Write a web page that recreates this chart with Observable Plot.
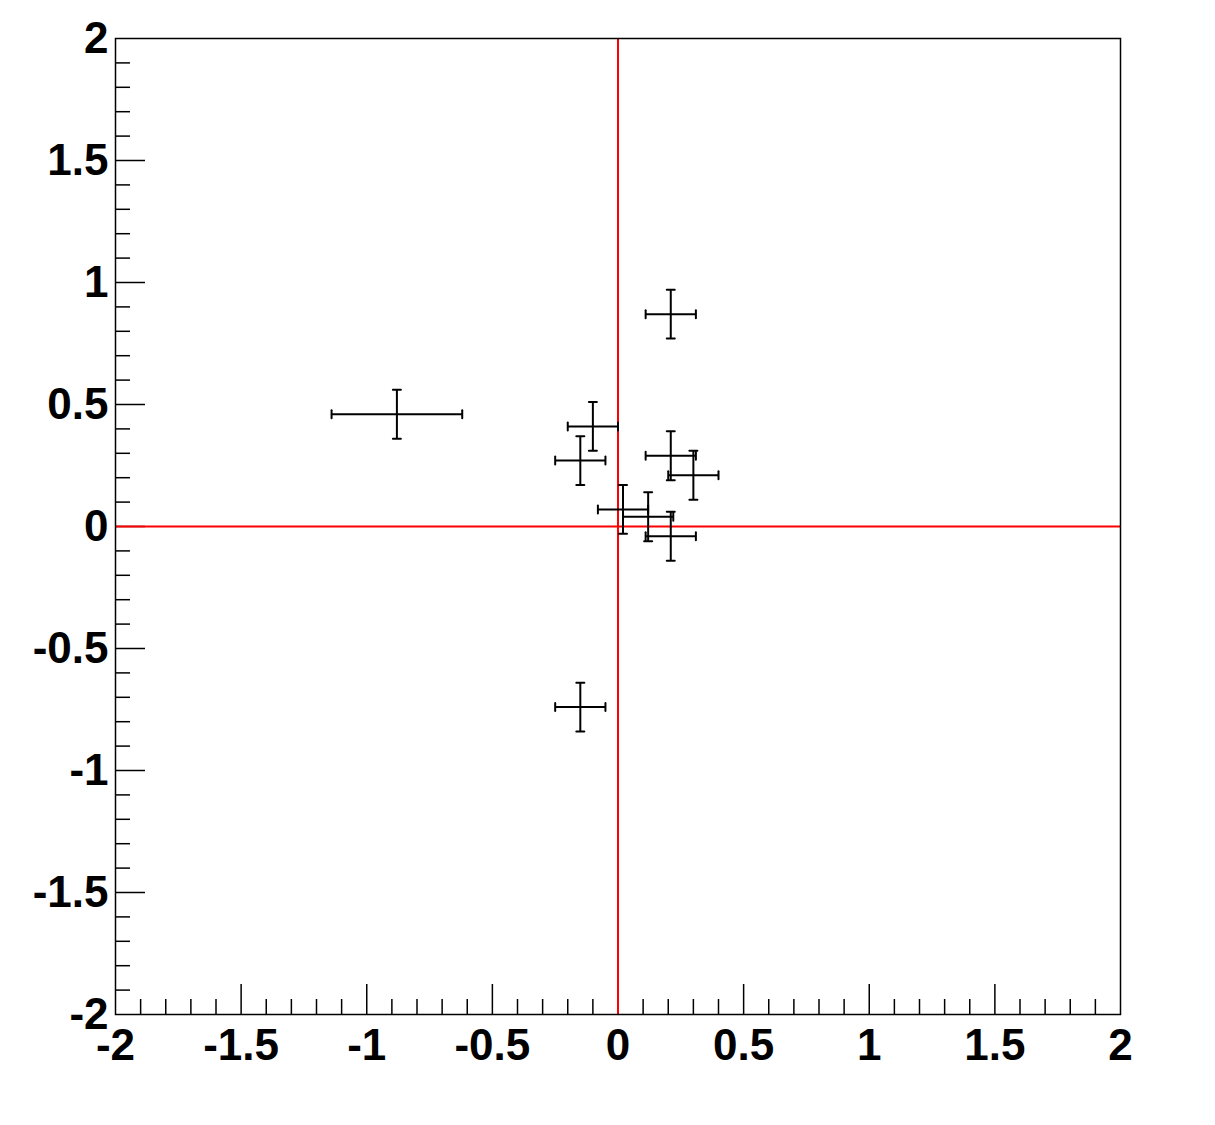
<!DOCTYPE html>
<html>
<head>
<meta charset="utf-8">
<script src="https://cdn.jsdelivr.net/npm/d3@7"></script>
<script src="https://cdn.jsdelivr.net/npm/@observablehq/plot@0.6"></script>
<style>
  html, body { margin: 0; padding: 0; background: #fff; }
  #chart svg { display: block; }
</style>
</head>
<body>
<div id="chart"></div>
<script>
// Data
const xs  = [0.21, -0.10, -0.15, 0.21, 0.30, 0.02, 0.12, 0.21, -0.88, -0.15];
const ys  = [0.87,  0.41,  0.27, 0.29, 0.21, 0.07, 0.04, -0.04, 0.46, -0.74];
const exs = [0.10,  0.10,  0.10, 0.10, 0.10, 0.10, 0.10, 0.10, 0.26, 0.10];
const eys = [0.10,  0.10,  0.10, 0.10, 0.10, 0.10, 0.10, 0.10, 0.10, 0.10];
const majorTicks = [-2, -1.5, -1, -0.5, 0, 0.5, 1, 1.5, 2];
const minorTicks = [-1.9,-1.8,-1.7,-1.6,-1.4,-1.3,-1.2,-1.1,-0.9,-0.8,-0.7,-0.6,-0.4,-0.3,-0.2,-0.1,
                    0.1,0.2,0.3,0.4,0.6,0.7,0.8,0.9,1.1,1.2,1.3,1.4,1.6,1.7,1.8,1.9];
const tickLabels = ["-2", "-1.5", "-1", "-0.5", "0", "0.5", "1", "1.5", "2"];

const points = xs.map((x, i) => ({x, y: ys[i], ex: exs[i], ey: eys[i]}));

const W = 1215, H = 1125;
const mL = 115, mR = 95, mT = 38, mB = 111;
const pw = W - mL - mR, ph = H - mT - mB;
const majorLen = 30, minorLen = 15;
const fmt = d => tickLabels[majorTicks.indexOf(d)] ?? String(d);

const capShape = { draw(context, l) { context.moveTo(0, 0); context.lineTo(0, -l); } };
const font = "'Liberation Sans', Arial, sans-serif";

const chart = Plot.plot({
  width: W, height: H,
  marginLeft: mL, marginRight: mR, marginTop: mT, marginBottom: mB,
  style: { background: "#fff", fontFamily: font },
  x: { domain: [-2, 2] },
  y: { domain: [-2, 2] },
  marks: [
    // tick marks inside the frame
    Plot.ruleX(majorTicks.slice(1, -1), { stroke: "#000", strokeWidth: 1.5, insetTop: ph - majorLen }),
    Plot.ruleX(minorTicks, { stroke: "#000", strokeWidth: 1.5, insetTop: ph - minorLen }),
    Plot.ruleY(majorTicks.slice(1, -1), { stroke: "#000", strokeWidth: 1.5, insetRight: pw - majorLen }),
    Plot.ruleY(minorTicks, { stroke: "#000", strokeWidth: 1.5, insetRight: pw - minorLen }),
    Plot.axisX(majorTicks, { tickSize: 0, tickPadding: 14, tickFormat: fmt, fontSize: 44, fontWeight: "bold", fill: "#000", label: null }),
    Plot.axisY(majorTicks, { tickSize: 0, tickPadding: 7, tickFormat: fmt, fontSize: 44, fontWeight: "bold", fill: "#000", label: null }),
    // red reference lines
    Plot.ruleX([0], { stroke: "#ff0000", strokeWidth: 2 }),
    Plot.ruleY([0], { stroke: "#ff0000", strokeWidth: 2 }),
    // error bars
    Plot.link(points, { x1: d => d.x - d.ex, x2: d => d.x + d.ex, y1: "y", y2: "y", stroke: "#000", strokeWidth: 2 }),
    Plot.link(points, { x1: "x", x2: "x", y1: d => d.y - d.ey, y2: d => d.y + d.ey, stroke: "#000", strokeWidth: 2 }),
    // caps on x error bars (vertical little segments)
    Plot.vector(points, { x: d => d.x - d.ex, y: "y", length: 8, rotate: 0, anchor: "middle", shape: capShape, stroke: "#000", strokeWidth: 2 }),
    Plot.vector(points, { x: d => d.x + d.ex, y: "y", length: 8, rotate: 0, anchor: "middle", shape: capShape, stroke: "#000", strokeWidth: 2 }),
    // caps on y error bars (horizontal little segments)
    Plot.vector(points, { x: "x", y: d => d.y - d.ey, length: 8, rotate: 90, anchor: "middle", shape: capShape, stroke: "#000", strokeWidth: 2 }),
    Plot.vector(points, { x: "x", y: d => d.y + d.ey, length: 8, rotate: 90, anchor: "middle", shape: capShape, stroke: "#000", strokeWidth: 2 }),
    Plot.frame({ stroke: "#000", strokeWidth: 1.5 })
  ]
});
document.getElementById("chart").appendChild(chart);
</script>
</body>
</html>
